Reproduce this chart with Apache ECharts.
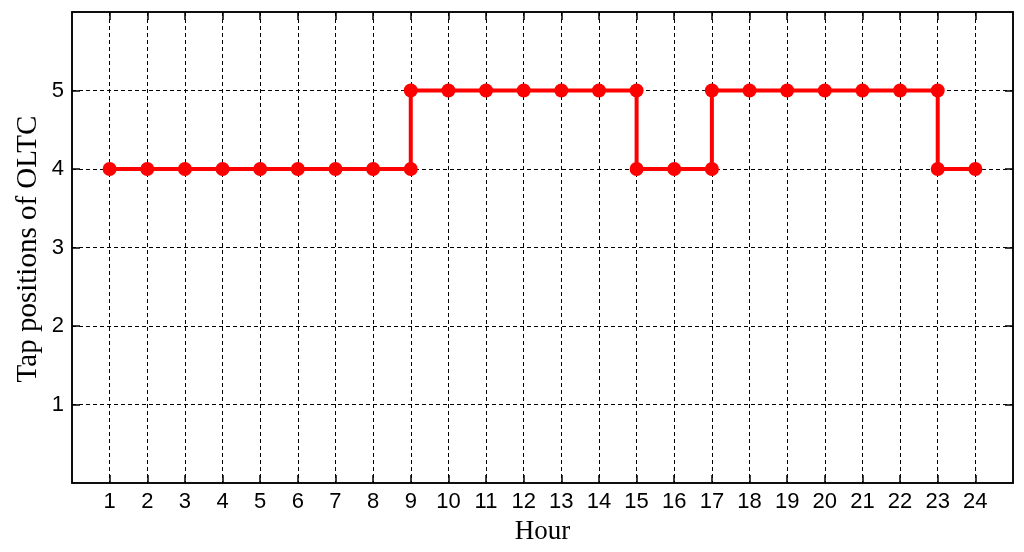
<!DOCTYPE html>
<html>
<head>
<meta charset="utf-8">
<script src="https://cdn.jsdelivr.net/npm/echarts@6/dist/echarts.min.js"></script>
<style>html,body{margin:0;padding:0;background:#fff;}#c{width:1024px;height:552px;}</style>
</head>
<body>
<div id="c"></div>
<script>
// Hours (x) and tap positions (y); repeated hours mark tap changes
const hours = [1,2,3,4,5,6,7,8,9,9,10,11,12,13,14,15,15,16,17,17,18,19,20,21,22,23,23,24];
const taps  = [4,4,4,4,4,4,4,4,4,5,5,5,5,5,5,5,4,4,4,5,5,5,5,5,5,5,4,4];
const xTickValues = [1,2,3,4,5,6,7,8,9,10,11,12,13,14,15,16,17,18,19,20,21,22,23,24];
const yTickValues = [1,2,3,4,5];
const xTitle = 'Hour';
const yTitle = 'Tap positions of OLTC';

const points = hours.map((h, i) => [h, taps[i]]);
const tickFont = {fontFamily: 'Liberation Sans', fontSize: 22, color: '#000'};
const titleFont = {fontFamily: 'Liberation Serif', fontSize: 27, color: '#000'};
const dashed = {color: '#000', width: 1, type: [4, 3]};
const tickStyle = {color: '#000', width: 1.5};
const axisLineStyle = {show: true, onZero: false, lineStyle: {color: '#000', width: 1.5}};

const chart = echarts.init(document.getElementById('c'), null, {renderer: 'canvas'});
chart.setOption({
  animation: false,
  backgroundColor: '#fff',
  grid: {left: 72, right: 11, top: 12, bottom: 69, show: true, borderColor: '#000', borderWidth: 1.5, backgroundColor: 'transparent'},
  xAxis: [{
    type: 'value', min: 0, max: 25, interval: 1, position: 'bottom',
    name: xTitle, nameLocation: 'middle', nameGap: 35, nameTextStyle: titleFont,
    axisLine: axisLineStyle,
    axisTick: {show: true, inside: true, length: 8, customValues: xTickValues, lineStyle: tickStyle},
    axisLabel: Object.assign({margin: 8, customValues: xTickValues}, tickFont),
    splitLine: {show: true, lineStyle: dashed}
  }, {
    type: 'value', min: 0, max: 25, interval: 1, position: 'top',
    axisLine: axisLineStyle,
    axisTick: {show: true, inside: true, length: 8, customValues: xTickValues, lineStyle: tickStyle},
    axisLabel: {show: false}, splitLine: {show: false}
  }],
  yAxis: [{
    type: 'value', min: 0, max: 6, interval: 1, position: 'left',
    axisLine: axisLineStyle,
    axisTick: {show: true, inside: true, length: 8, customValues: yTickValues, lineStyle: tickStyle},
    axisLabel: Object.assign({margin: 8, customValues: yTickValues}, tickFont),
    splitLine: {show: true, lineStyle: dashed}
  }, {
    type: 'value', min: 0, max: 6, interval: 1, position: 'right',
    axisLine: axisLineStyle,
    axisTick: {show: true, inside: true, length: 8, customValues: yTickValues, lineStyle: tickStyle},
    axisLabel: {show: false}, splitLine: {show: false}
  }],
  graphic: [{
    type: 'text', x: 14, y: 249, rotation: Math.PI / 2,
    style: {text: yTitle, font: '29px "Liberation Serif"', fill: '#000', align: 'center', verticalAlign: 'top'}
  }],
  series: [{
    type: 'line', data: points, xAxisIndex: 0, yAxisIndex: 0,
    symbol: 'circle', symbolSize: 14, showAllSymbol: true,
    lineStyle: {color: '#ff0000', width: 4},
    itemStyle: {color: '#ff0000'}
  }]
});
</script>
</body>
</html>
